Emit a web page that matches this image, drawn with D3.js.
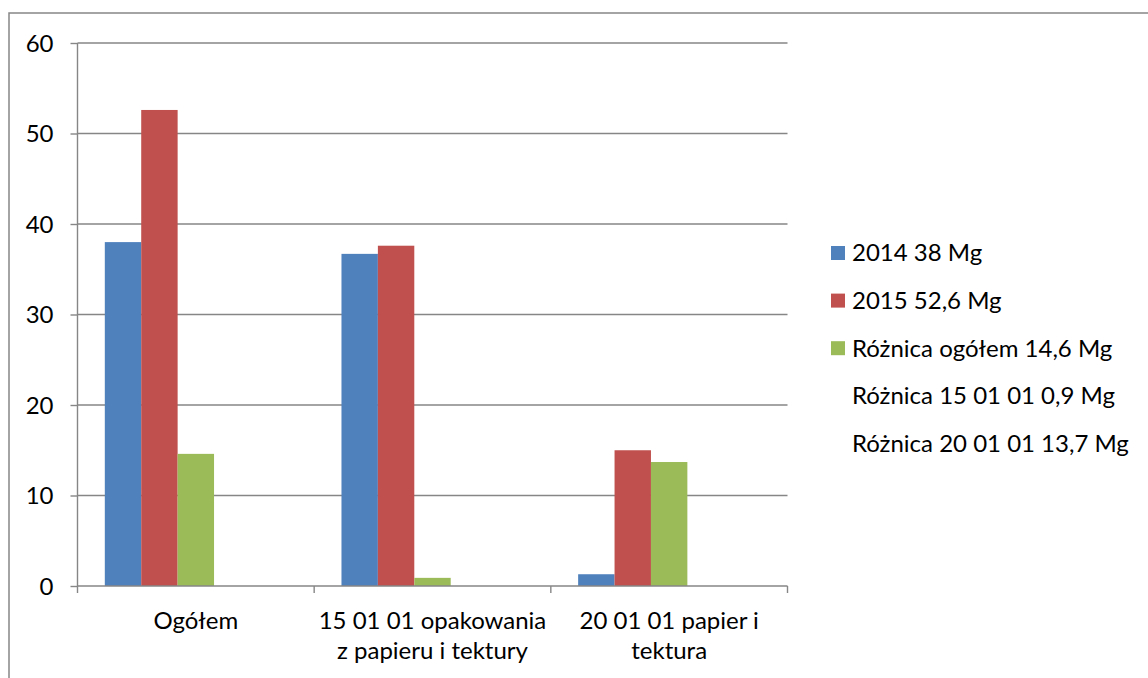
<!DOCTYPE html>
<html><head><meta charset="utf-8">
<script src="https://cdn.jsdelivr.net/npm/d3@7"></script>
<style>body{margin:0;background:#fff}svg{display:block}text{font-family:Lato,"Open Sans",sans-serif;fill:#000}</style>
</head><body><svg id="c" width="1148" height="678"></svg>
<script>
const categories = [["Ogółem"], ["15 01 01 opakowania", "z papieru i tektury"], ["20 01 01 papier i", "tektura"]];
const seriesNames = ["2014 38 Mg", "2015 52,6 Mg", "Różnica ogółem 14,6 Mg", "Różnica 15 01 01 0,9 Mg", "Różnica 20 01 01 13,7 Mg"];
const seriesColors = ["#4F81BD", "#C0504D", "#9BBB59", "none", "none"];
const s2014 = [38, 36.7, 1.3];
const s2015 = [52.6, 37.6, 15.0];
const sDiff = [14.6, 0.9, 13.7];
const sDiff150101 = [null, null, null];
const sDiff200101 = [null, null, null];
const yTicks = [0, 10, 20, 30, 40, 50, 60];
const seriesValues = [s2014, s2015, sDiff, sDiff150101, sDiff200101];

const svg = d3.select("#c");
const L = 77.5, R = 787.5, T = 43, B = 586;
const FS = "24px";
const catIdx = categories.map((c, i) => i);
const x0 = d3.scaleBand().domain(catIdx).range([L, R]).padding(0);
const x1 = d3.scaleBand().domain(d3.range(seriesNames.length)).range([0, x0.bandwidth()]).paddingInner(0).paddingOuter(0.75);
const y = d3.scaleLinear().domain([0, 60]).range([B, T]);

// outer border
svg.append("rect").attr("x", 9).attr("y", 13).attr("width", 1160).attr("height", 700)
  .attr("fill", "none").attr("stroke", "#868686").attr("stroke-width", 1.5);

// gridlines
svg.append("g").selectAll("line").data(yTicks.filter(d => d > 0)).join("line")
  .attr("x1", L).attr("x2", R).attr("y1", d => y(d)).attr("y2", d => y(d))
  .attr("stroke", "#868686").attr("stroke-width", 1.4);

// y axis
const ya = svg.append("g").attr("transform", `translate(${L},0)`)
  .call(d3.axisLeft(y).tickValues(yTicks).tickSize(7).tickPadding(17).tickFormat(d3.format("d")));
ya.select(".domain").attr("stroke", "#868686").attr("stroke-width", 1.4).attr("d", `M0,${T}V${B}`);
ya.selectAll(".tick line").attr("stroke", "#868686").attr("stroke-width", 1.4);
ya.selectAll(".tick text").style("font-size", FS).attr("dy", "0.35em");

// bars
const g = svg.append("g");
seriesValues.forEach((vals, si) => {
  g.append("g").selectAll("rect").data(vals.map((v, ci) => ({v, ci})).filter(d => d.v != null)).join("rect")
    .attr("x", d => x0(d.ci) + x1(si))
    .attr("width", x1.bandwidth())
    .attr("y", d => y(d.v))
    .attr("height", d => y(0) - y(d.v))
    .attr("fill", seriesColors[si]);
});

// x axis
const xa = svg.append("g").attr("transform", `translate(0,${B})`);
xa.append("line").attr("x1", L).attr("x2", R).attr("stroke", "#868686").attr("stroke-width", 1.6);
const boundaries = d3.range(categories.length + 1).map(i => L + i * x0.bandwidth());
xa.selectAll(".tk").data(boundaries).join("line").attr("class", "tk")
  .attr("x1", d => d).attr("x2", d => d).attr("y1", 0).attr("y2", 7)
  .attr("stroke", "#868686").attr("stroke-width", 1.4);
categories.forEach((lines, ci) => {
  const t = xa.append("text").attr("text-anchor", "middle").style("font-size", FS)
    .attr("x", x0(ci) + x0.bandwidth() / 2).attr("y", 43);
  lines.forEach((ln, li) => t.append("tspan").attr("x", x0(ci) + x0.bandwidth() / 2).attr("dy", li === 0 ? 0 : 30).text(ln));
});

// legend
const lg = svg.append("g");
seriesNames.forEach((n, i) => {
  const cy = 253 + i * 47.6;
  if (seriesColors[i] !== "none")
    lg.append("rect").attr("x", 831).attr("y", cy - 7).attr("width", 14).attr("height", 14).attr("fill", seriesColors[i]);
  lg.append("text").attr("x", 852).attr("y", cy).attr("dy", "0.35em").style("font-size", FS).text(n);
});
</script></body></html>
